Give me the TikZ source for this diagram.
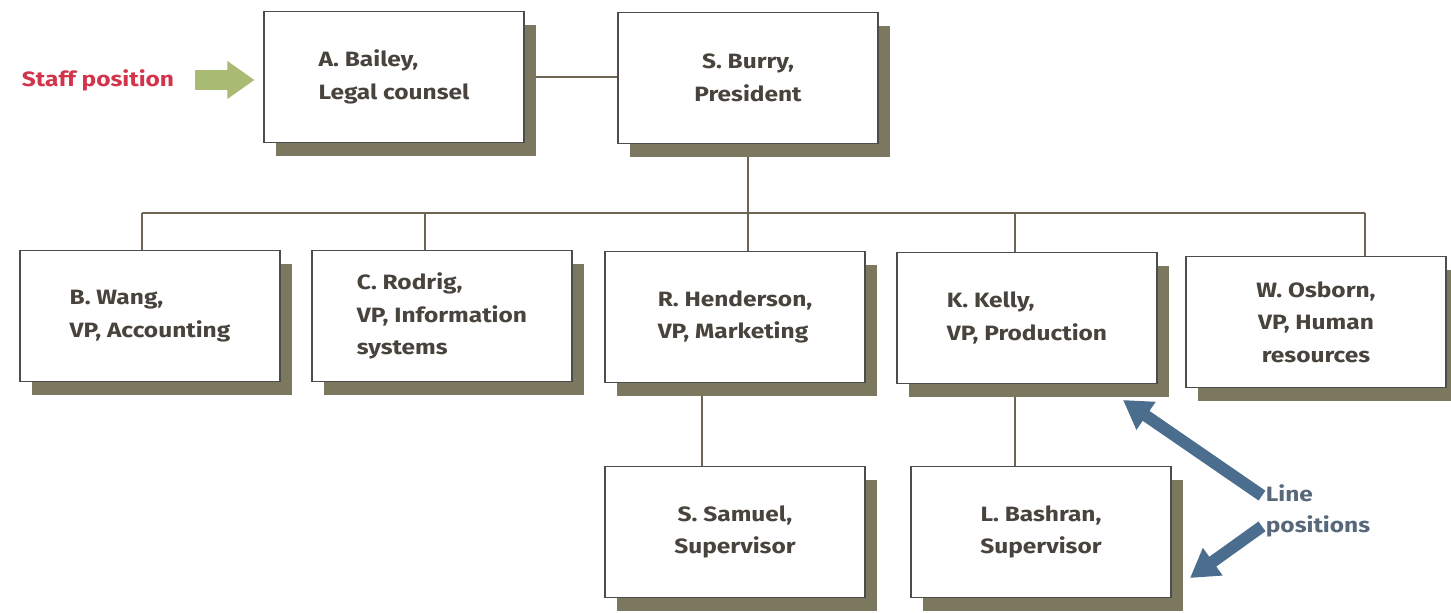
\documentclass[tikz,border=0pt]{standalone}
\usepackage{fontspec}
\setmainfont{Fira Sans}[FakeStretch=1.18]
\usepackage{xcolor}
\usepackage{tikz}
\usetikzlibrary{positioning, arrows.meta, shadows, backgrounds}
\definecolor{boxtxt}{HTML}{48443D}
\definecolor{shade}{RGB}{124,120,96}
\definecolor{linec}{HTML}{6E6456}
\definecolor{staffred}{HTML}{D2344B}
\definecolor{staffgrn}{HTML}{A9BA72}
\definecolor{lineblu}{HTML}{4B6E8E}
\definecolor{linetxt}{HTML}{56687A}
\tikzset{
  post/.style={rectangle, draw=black!70, line width=0.6pt, fill=white, align=center,
               minimum width=5.2cm, minimum height=2.62cm, inner sep=3pt,
               font=\fontsize{11.8}{18.5}\selectfont\bfseries, text=boxtxt,
               drop shadow={shadow xshift=0.24cm, shadow yshift=-0.27cm, fill=shade, opacity=1}},
  tag/.style={font=\fontsize{11.8}{18}\selectfont\bfseries, inner sep=2pt},
  link/.style={draw=linec, line width=1.1pt},
  staffarr/.style={-{Triangle[length=5.4mm, width=7.2mm]}, line width=4mm, draw=staffgrn},
  linearr/.style={-{Triangle[length=5.6mm, width=6.4mm]}, line width=2.4mm, draw=lineblu},
}

\begin{document}
\begin{tikzpicture}[x=0.2mm, y=0.2mm]
  \useasboundingbox (0,0) rectangle (1451,613);
  % top row
  \node[post, align=left] (bailey) at (394,536) {A. Bailey,\\Legal counsel};
  \node[post] (burry) at (748,535) {S. Burry,\\President};
  \node[tag, text=staffred] (staff) at (98,533) {Staff position};
  % vice presidents
  \node[post, align=left] (wang) at (150,297) {B. Wang,\\VP, Accounting};
  \node[post, align=left] (rodrig) at (442,297) {C. Rodrig,\\VP, Information\\systems};
  \node[post, align=left] (henderson) at (735,296) {R. Henderson,\\VP, Marketing};
  \node[post, align=left] (kelly) at (1027,295) {K. Kelly,\\VP, Production};
  \node[post] (osborn) at (1316,291) {W. Osborn,\\VP, Human\\resources};
  % supervisors
  \node[post] (samuel) at (735,81) {S. Samuel,\\Supervisor};
  \node[post] (bashran) at (1041,81) {L. Bashran,\\Supervisor};
  \node[tag, text=linetxt, align=left, anchor=west] (lpos) at (1262,102) {Line\\positions};

  % bus and drop points
  \coordinate (d1) at (142,400);
  \coordinate (d2) at (425,400);
  \coordinate (d3) at (748,400);
  \coordinate (d4) at (1015,400);
  \coordinate (d5) at (1365,400);
  \coordinate (s1) at (702,0);
  \coordinate (kt) at (1123,213);
  \coordinate (bt) at (1190,35);

  \begin{scope}[on background layer]
    \draw[link] (bailey.east) -- (bailey.east -| burry.west);
    \draw[link] (burry.south) -- (d3);
    \draw[link] (d1) -- (d5);
    \draw[link] (d1) -- (d1 |- wang.north);
    \draw[link] (d2) -- (d2 |- rodrig.north);
    \draw[link] (d3) -- (d3 |- henderson.north);
    \draw[link] (d4) -- (d4 |- kelly.north);
    \draw[link] (d5) -- (d5 |- osborn.north);
    \draw[link] (s1 |- henderson.south) -- (s1 |- samuel.north);
    \draw[link] (d4 |- kelly.south) -- (d4 |- bashran.north);
  \end{scope}

  \draw[staffarr, shorten <=3.4mm, shorten >=1.8mm] (staff.east) -- (staff.east -| bailey.west);
  \draw[linearr] ([yshift=-3mm]lpos.north west) -- (kt);
  \draw[linearr] ([yshift=3mm]lpos.south west) -- (bt);
\end{tikzpicture}
\end{document}
